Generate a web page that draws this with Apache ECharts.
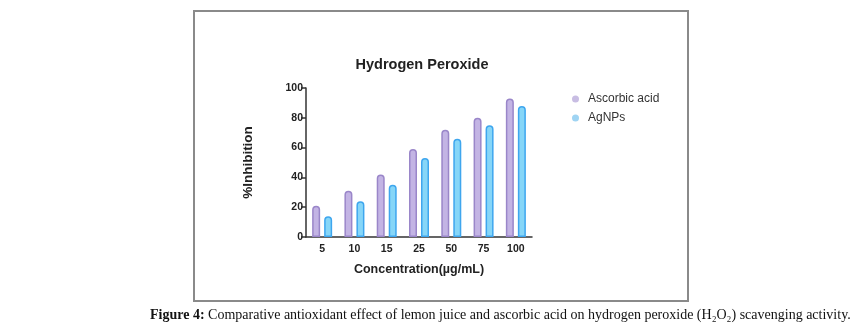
<!DOCTYPE html>
<html>
<head>
<meta charset="utf-8">
<script src="https://cdn.jsdelivr.net/npm/echarts@6/dist/echarts.min.js"></script>
<style>
html,body{margin:0;padding:0;background:#fff;}
#c{width:855px;height:329px;}
</style>
</head>
<body>
<div id="c"></div>
<script>
const categories = ['5', '10', '15', '25', '50', '75', '100'];
const ascorbicAcid = [21, 31, 42, 59, 72, 80, 93];
const agNPs = [14, 24, 35, 53, 66, 75, 88];
const yTicks = [0, 20, 40, 60, 80, 100];

const chart = echarts.init(document.getElementById('c'), null, {renderer: 'canvas'});
const axisFont = {fontFamily: 'Liberation Sans, Arial, sans-serif', fontWeight: 'bold', fontSize: 10.5, color: '#222'};
chart.setOption({
  animation: false,
  backgroundColor: '#fff',
  title: {
    text: 'Hydrogen Peroxide',
    left: 417, top: 52, textAlign: 'center',
    textStyle: {fontFamily: 'Liberation Sans, Arial, sans-serif', fontWeight: 'bold', fontSize: 14.5, color: '#222'}
  },
  legend: {
    orient: 'vertical', left: 567, top: 88, itemGap: 7,
    icon: 'circle', itemWidth: 7, itemHeight: 7,
    textStyle: {fontFamily: 'Liberation Sans, Arial, sans-serif', fontSize: 12, color: '#333', padding: [0,0,0,4]},
    data: [
      {name: 'Ascorbic acid', itemStyle: {color: '#c8bde3', borderWidth: 0}},
      {name: 'AgNPs', itemStyle: {color: '#9fd4f3', borderWidth: 0}}
    ]
  },
  grid: {left: 306, top: 88, width: 226, height: 149, containLabel: false},
  xAxis: {
    type: 'category', data: categories,
    name: 'Concentration(µg/mL)', nameLocation: 'middle', nameGap: 26,
    nameTextStyle: {fontFamily: 'Liberation Sans, Arial, sans-serif', fontWeight: 'bold', fontSize: 12.5, color: '#222'},
    axisLine: {lineStyle: {color: '#333', width: 1.5}},
    axisTick: {alignWithLabel: true, length: 5, lineStyle: {color: '#333', width: 1.5}},
    axisLabel: Object.assign({margin: 7}, axisFont)
  },
  yAxis: {
    type: 'value', min: 0, max: 100, interval: 20,
    name: '%Inhibition', nameLocation: 'middle', nameGap: 51, nameRotate: 90,
    nameTextStyle: {fontFamily: 'Liberation Sans, Arial, sans-serif', fontWeight: 'bold', fontSize: 13.5, color: '#222'},
    axisLine: {show: true, lineStyle: {color: '#333', width: 1.5}},
    axisTick: {show: true, length: 5, lineStyle: {color: '#333', width: 1.5}},
    axisLabel: Object.assign({margin: 3, formatter: v => yTicks.includes(v) ? String(v) : ''}, axisFont),
    splitLine: {show: false}
  },
  series: [
    {
      name: 'Ascorbic acid', type: 'bar', data: ascorbicAcid,
      barWidth: 8, barGap: '50%',
      itemStyle: {color: '#c3b4e4', borderColor: '#9a86c9', borderWidth: 1.5, borderRadius: [4,4,0,0]}
    },
    {
      name: 'AgNPs', type: 'bar', data: agNPs,
      barWidth: 8,
      itemStyle: {color: '#86d6f8', borderColor: '#3ea6ee', borderWidth: 1.5, borderRadius: [4,4,0,0]}
    }
  ],
  graphic: [
    {type: 'rect', shape: {x: 194, y: 11, width: 494, height: 290}, style: {fill: 'none', stroke: '#8a8a8a', lineWidth: 2}, z: 100},
    {type: 'text', left: 150, top: 308, style: {
      text: '{b|Figure 4:} Comparative antioxidant effect of lemon juice and ascorbic acid on hydrogen peroxide (H₂O₂) scavenging activity.',
      font: '14px "Liberation Serif", "Times New Roman", serif', fill: '#111',
      rich: {b: {fontWeight: 'bold', fontFamily: 'Liberation Serif', fontSize: 14, fill: '#111'}}
    }}
  ]
});
</script>
</body>
</html>
